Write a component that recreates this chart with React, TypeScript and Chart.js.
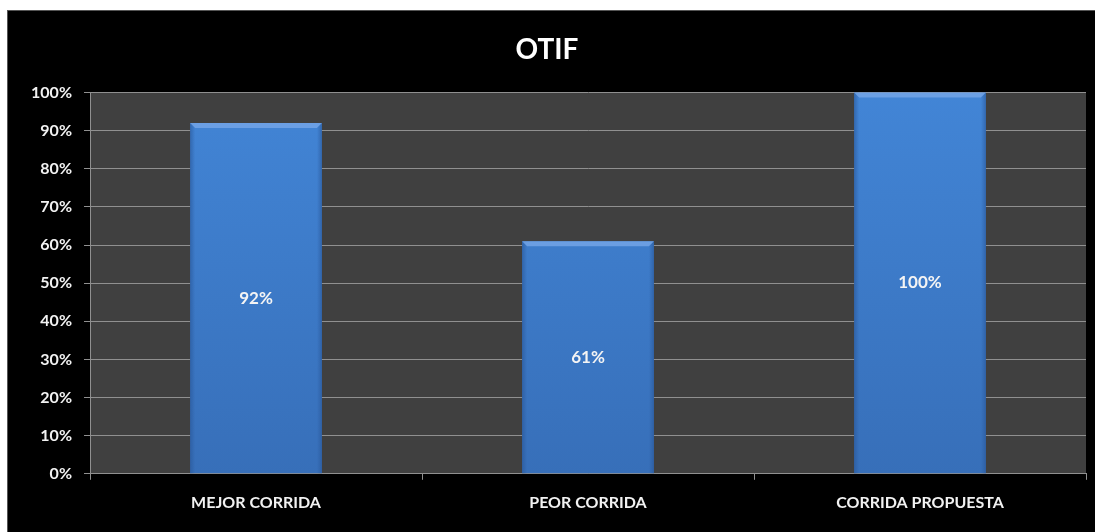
import React, { useEffect, useRef } from "react";
import { Chart, registerables } from "chart.js";

Chart.register(...registerables);

const categories = ["MEJOR CORRIDA", "PEOR CORRIDA", "CORRIDA PROPUESTA"];
const otifValues = [92, 61, 100];
const chartTitle = "OTIF";

const FONT = "Lato, 'Open Sans', sans-serif";

const plotBgPlugin = {
  id: "plotBg",
  beforeDraw(chart: any) {
    const { ctx, chartArea } = chart;
    ctx.save();
    ctx.fillStyle = "#404040";
    ctx.fillRect(chartArea.left, chartArea.top, chartArea.right - chartArea.left, chartArea.bottom - chartArea.top);
    ctx.restore();
  },
};

const bevelPlugin = {
  id: "bevel",
  afterDatasetsDraw(chart: any) {
    const { ctx } = chart;
    const meta = chart.getDatasetMeta(0);
    ctx.save();
    meta.data.forEach((bar: any, i: number) => {
      const left = bar.x - bar.width / 2;
      const right = bar.x + bar.width / 2;
      const top = bar.y;
      const bottom = bar.base;
      const e = 5;
      let g = ctx.createLinearGradient(left, 0, left + e, 0);
      g.addColorStop(0, "rgba(40,85,150,0.6)");
      g.addColorStop(1, "rgba(40,85,150,0)");
      ctx.fillStyle = g;
      ctx.fillRect(left, top, e, bottom - top);
      g = ctx.createLinearGradient(right - e, 0, right, 0);
      g.addColorStop(0, "rgba(40,85,150,0)");
      g.addColorStop(1, "rgba(40,85,150,0.6)");
      ctx.fillStyle = g;
      ctx.fillRect(right - e, top, e, bottom - top);
      ctx.beginPath();
      ctx.moveTo(left, top);
      ctx.lineTo(right, top);
      ctx.lineTo(right - e, top + e);
      ctx.lineTo(left + e, top + e);
      ctx.closePath();
      ctx.fillStyle = "rgba(115,165,230,0.85)";
      ctx.fill();
      ctx.fillStyle = "#f4f4f4";
      ctx.font = `bold 17px ${FONT}`;
      ctx.textAlign = "center";
      ctx.textBaseline = "middle";
      ctx.fillText(otifValues[i] + "%", bar.x, (top + bottom) / 2);
    });
    ctx.restore();
  },
};

export default function App() {
  const ref = useRef<HTMLCanvasElement>(null);
  useEffect(() => {
    document.body.style.margin = "0";
    const chart = new Chart(ref.current!, {
      type: "bar",
      data: {
        labels: categories,
        datasets: [
          {
            data: otifValues,
            backgroundColor: (c: any) => {
              const area = c.chart.chartArea;
              if (!area) return "#3d7ccc";
              const g = c.chart.ctx.createLinearGradient(0, area.top, 0, area.bottom);
              g.addColorStop(0, "#4285d6");
              g.addColorStop(1, "#376fb9");
              return g;
            },
            borderWidth: 0,
            barPercentage: 0.397,
            categoryPercentage: 1,
          },
        ],
      },
      options: {
        animation: false,
        responsive: false,
        layout: { padding: { left: 0, right: 9, top: 0, bottom: 7 } },
        plugins: {
          legend: { display: false },
          tooltip: { enabled: false },
          title: {
            display: true,
            text: chartTitle,
            color: "#ffffff",
            font: { family: FONT, size: 28, weight: "bold" },
            padding: { top: 22, bottom: 26 },
          },
        },
        scales: {
          x: {
            grid: {
              display: true,
              drawOnChartArea: false,
              drawTicks: true,
              tickLength: 6,
              color: "#909090",
              offset: true,
            },
            border: { display: true, color: "#909090" },
            ticks: {
              color: "#f2f2f2",
              padding: 13,
              font: { family: FONT, size: 16, weight: "bold" },
            },
          },
          y: {
            min: 0,
            max: 100,
            afterFit(scale: any) {
              scale.width = 82;
            },
            grid: {
              color: "#909090",
              tickLength: 6,
            },
            border: { display: true, color: "#909090" },
            ticks: {
              stepSize: 10,
              color: "#f2f2f2",
              padding: 12,
              font: { family: FONT, size: 16, weight: "bold" },
              callback: (v: any) => v + "%",
            },
          },
        },
      },
      plugins: [plotBgPlugin, bevelPlugin],
    });
    return () => chart.destroy();
  }, []);
  return (
    <div style={{ width: 1095, height: 532, background: "#ffffff", position: "relative", overflow: "hidden" }}>
      <div
        style={{
          position: "absolute",
          left: 7,
          top: 10,
          width: 1088,
          height: 522,
          background: "#000000",
          borderTop: "1px solid #555",
          borderLeft: "1px solid #555",
          boxSizing: "border-box",
        }}
      >
        <canvas ref={ref} width={1087} height={521} style={{ display: "block" }} />
      </div>
    </div>
  );
}
